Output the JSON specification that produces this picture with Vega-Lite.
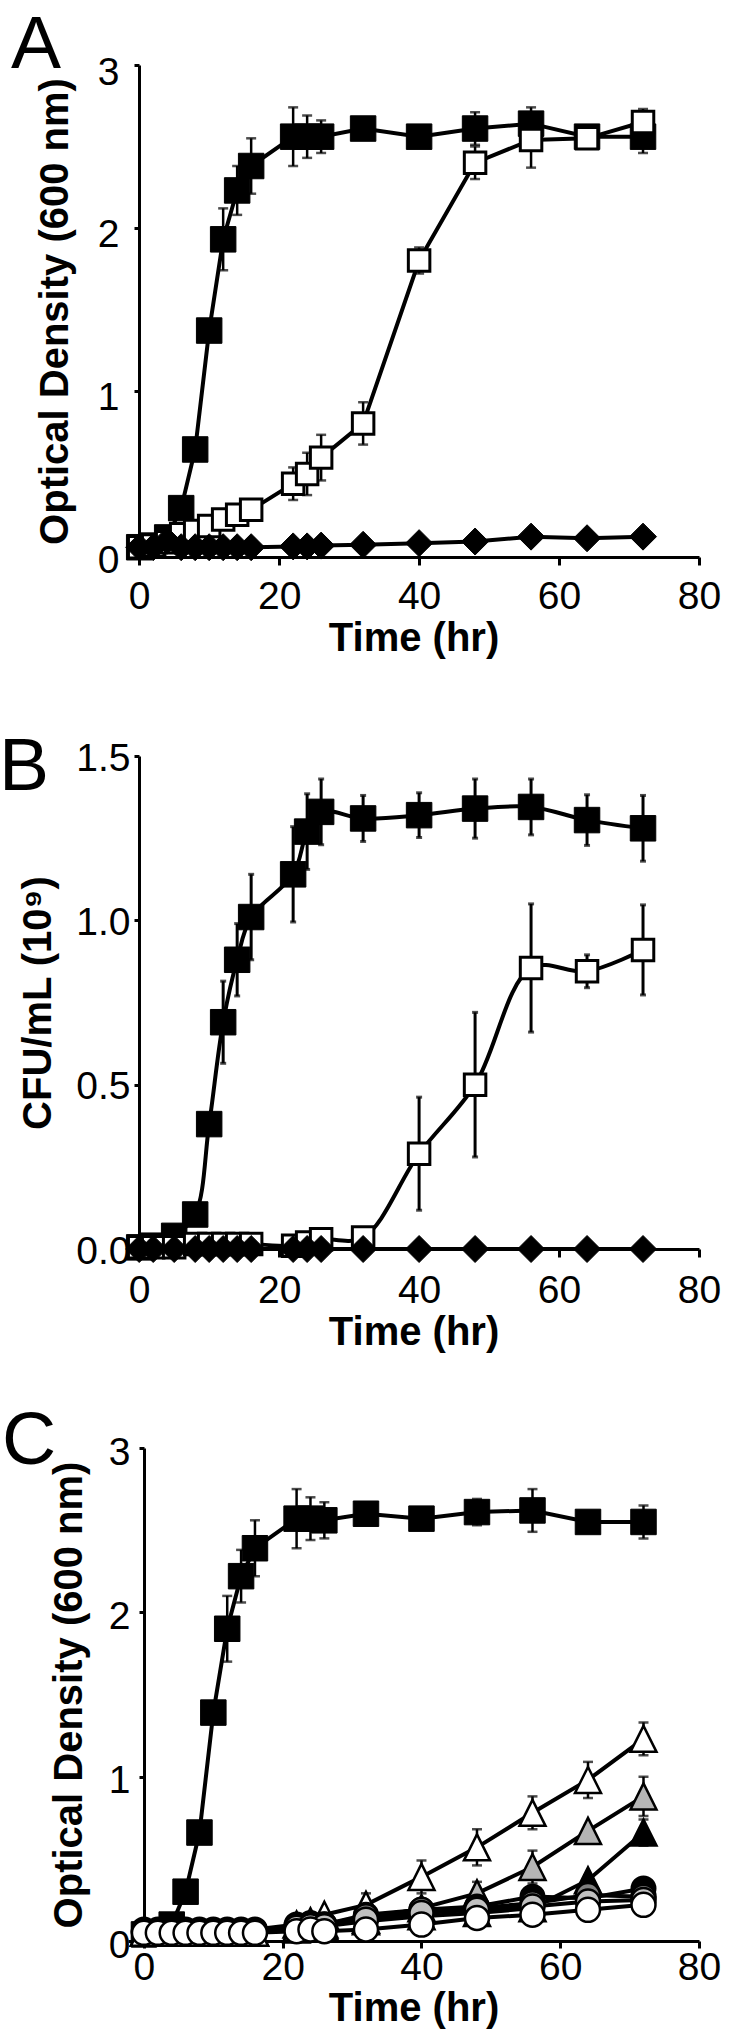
{
"$schema": "https://vega.github.io/schema/vega-lite/v6.json",
"autosize": {"type": "none"},
"padding": {"left": 128, "top": 65, "right": 605, "bottom": 1966},
"background": "white",
"config": {
  "view": {"stroke": null},
  "font": "Liberation Sans",
  "axis": {"domainColor": "black", "domainWidth": 3, "tickColor": "black", "tickWidth": 3, "labelColor": "black", "labelFont": "Liberation Sans", "labelFontSize": 39, "titleFont": "Liberation Sans", "titleFontSize": 40, "titleFontWeight": "bold", "titleColor": "black", "grid": false, "labelFlush": false, "labelOverlap": false, "labelBound": false}
},
"datasets": {
  "A": [
    {"s":"filled square","t":0,"v":0.04},{"s":"filled square","t":2,"v":0.05},{"s":"filled square","t":4,"v":0.1},{"s":"filled square","t":6,"v":0.28},{"s":"filled square","t":8,"v":0.64,"e":0.03},{"s":"filled square","t":10,"v":1.37,"e":0.06},{"s":"filled square","t":12,"v":1.93,"e":0.19},{"s":"filled square","t":14,"v":2.23,"e":0.15},{"s":"filled square","t":16,"v":2.38,"e":0.17},{"s":"filled square","t":22,"v":2.56,"e":0.18},{"s":"filled square","t":24,"v":2.56,"e":0.13},{"s":"filled square","t":26,"v":2.56,"e":0.1},{"s":"filled square","t":32,"v":2.61,"e":0.04},{"s":"filled square","t":40,"v":2.56,"e":0.03},{"s":"filled square","t":48,"v":2.61,"e":0.1},{"s":"filled square","t":56,"v":2.64,"e":0.1},{"s":"filled square","t":64,"v":2.56,"e":0.03},{"s":"filled square","t":72,"v":2.56,"e":0.1},
    {"s":"open square","t":0,"v":0.04},{"s":"open square","t":2,"v":0.05},{"s":"open square","t":4,"v":0.07},{"s":"open square","t":6,"v":0.12},{"s":"open square","t":8,"v":0.14},{"s":"open square","t":10,"v":0.17},{"s":"open square","t":12,"v":0.21},{"s":"open square","t":14,"v":0.24},{"s":"open square","t":16,"v":0.27},{"s":"open square","t":22,"v":0.43,"e":0.1},{"s":"open square","t":24,"v":0.49,"e":0.13},{"s":"open square","t":26,"v":0.59,"e":0.14},{"s":"open square","t":32,"v":0.8,"e":0.13},{"s":"open square","t":40,"v":1.8,"e":0.08},{"s":"open square","t":48,"v":2.4,"e":0.1},{"s":"open square","t":56,"v":2.54,"e":0.17},{"s":"open square","t":64,"v":2.55,"e":0.03},{"s":"open square","t":72,"v":2.65,"e":0.08},
    {"s":"filled diamond","t":0,"v":0.04},{"s":"filled diamond","t":2,"v":0.04},{"s":"filled diamond","t":4,"v":0.08},{"s":"filled diamond","t":6,"v":0.04},{"s":"filled diamond","t":8,"v":0.04},{"s":"filled diamond","t":10,"v":0.04},{"s":"filled diamond","t":12,"v":0.04},{"s":"filled diamond","t":14,"v":0.04},{"s":"filled diamond","t":16,"v":0.04},{"s":"filled diamond","t":22,"v":0.045},{"s":"filled diamond","t":24,"v":0.045},{"s":"filled diamond","t":26,"v":0.05},{"s":"filled diamond","t":32,"v":0.055},{"s":"filled diamond","t":40,"v":0.065},{"s":"filled diamond","t":48,"v":0.075},{"s":"filled diamond","t":56,"v":0.105},{"s":"filled diamond","t":64,"v":0.095},{"s":"filled diamond","t":72,"v":0.105}
  ],
  "B": [
    {"s":"filled square","t":0,"v":0.005},{"s":"filled square","t":2,"v":0.01},{"s":"filled square","t":5,"v":0.04},{"s":"filled square","t":8,"v":0.105},{"s":"filled square","t":10,"v":0.38},{"s":"filled square","t":12,"v":0.69,"e":0.125},{"s":"filled square","t":14,"v":0.88,"e":0.11},{"s":"filled square","t":16,"v":1.01,"e":0.13},{"s":"filled square","t":22,"v":1.14,"e":0.145},{"s":"filled square","t":24,"v":1.27,"e":0.115},{"s":"filled square","t":26,"v":1.33,"e":0.1},{"s":"filled square","t":32,"v":1.31,"e":0.07},{"s":"filled square","t":40,"v":1.32,"e":0.068},{"s":"filled square","t":48,"v":1.34,"e":0.09},{"s":"filled square","t":56,"v":1.345,"e":0.085},{"s":"filled square","t":64,"v":1.305,"e":0.077},{"s":"filled square","t":72,"v":1.28,"e":0.1},
    {"s":"open square","t":0,"v":0.005},{"s":"open square","t":2,"v":0.005},{"s":"open square","t":5,"v":0.005},{"s":"open square","t":8,"v":0.015},{"s":"open square","t":10,"v":0.015},{"s":"open square","t":12,"v":0.015},{"s":"open square","t":14,"v":0.015},{"s":"open square","t":16,"v":0.015},{"s":"open square","t":22,"v":0.01},{"s":"open square","t":24,"v":0.02},{"s":"open square","t":26,"v":0.03},{"s":"open square","t":32,"v":0.035},{"s":"open square","t":40,"v":0.29,"e":0.172},{"s":"open square","t":48,"v":0.5,"e":0.22},{"s":"open square","t":56,"v":0.855,"e":0.195},{"s":"open square","t":64,"v":0.845,"e":0.05},{"s":"open square","t":72,"v":0.91,"e":0.137},
    {"s":"filled diamond","t":0,"v":0},{"s":"filled diamond","t":2,"v":0},{"s":"filled diamond","t":5,"v":0},{"s":"filled diamond","t":8,"v":0},{"s":"filled diamond","t":10,"v":0},{"s":"filled diamond","t":12,"v":0},{"s":"filled diamond","t":14,"v":0},{"s":"filled diamond","t":16,"v":0},{"s":"filled diamond","t":22,"v":0},{"s":"filled diamond","t":24,"v":0},{"s":"filled diamond","t":26,"v":0},{"s":"filled diamond","t":32,"v":0},{"s":"filled diamond","t":40,"v":0},{"s":"filled diamond","t":48,"v":0},{"s":"filled diamond","t":56,"v":0},{"s":"filled diamond","t":64,"v":0},{"s":"filled diamond","t":72,"v":0}
  ],
  "C": [
    {"s":"filled square","t":0,"v":0.04},{"s":"filled square","t":2,"v":0.05},{"s":"filled square","t":4,"v":0.1},{"s":"filled square","t":6,"v":0.3},{"s":"filled square","t":8,"v":0.66},{"s":"filled square","t":10,"v":1.39,"e":0.06},{"s":"filled square","t":12,"v":1.9,"e":0.2},{"s":"filled square","t":14,"v":2.22,"e":0.16},{"s":"filled square","t":16,"v":2.39,"e":0.17},{"s":"filled square","t":22,"v":2.57,"e":0.18},{"s":"filled square","t":24,"v":2.57,"e":0.13},{"s":"filled square","t":26,"v":2.56,"e":0.11},{"s":"filled square","t":32,"v":2.6,"e":0.04},{"s":"filled square","t":40,"v":2.57,"e":0.03},{"s":"filled square","t":48,"v":2.61,"e":0.08},{"s":"filled square","t":56,"v":2.62,"e":0.13},{"s":"filled square","t":64,"v":2.55,"e":0.02},{"s":"filled square","t":72,"v":2.55,"e":0.1},
    {"s":"filled triangle","t":0,"v":0.05},{"s":"filled triangle","t":2,"v":0.05},{"s":"filled triangle","t":4,"v":0.05},{"s":"filled triangle","t":6,"v":0.05},{"s":"filled triangle","t":8,"v":0.05},{"s":"filled triangle","t":10,"v":0.05},{"s":"filled triangle","t":12,"v":0.05},{"s":"filled triangle","t":14,"v":0.05},{"s":"filled triangle","t":16,"v":0.05},{"s":"filled triangle","t":22,"v":0.07},{"s":"filled triangle","t":24,"v":0.08},{"s":"filled triangle","t":26,"v":0.09},{"s":"filled triangle","t":32,"v":0.12},{"s":"filled triangle","t":40,"v":0.15},{"s":"filled triangle","t":48,"v":0.17},{"s":"filled triangle","t":56,"v":0.2},{"s":"filled triangle","t":64,"v":0.37,"e":0.03},{"s":"filled triangle","t":72,"v":0.66,"e":0.08},
    {"s":"gray triangle","t":0,"v":0.05},{"s":"gray triangle","t":2,"v":0.05},{"s":"gray triangle","t":4,"v":0.05},{"s":"gray triangle","t":6,"v":0.05},{"s":"gray triangle","t":8,"v":0.05},{"s":"gray triangle","t":10,"v":0.05},{"s":"gray triangle","t":12,"v":0.05},{"s":"gray triangle","t":14,"v":0.05},{"s":"gray triangle","t":16,"v":0.05},{"s":"gray triangle","t":22,"v":0.08},{"s":"gray triangle","t":24,"v":0.09},{"s":"gray triangle","t":26,"v":0.1},{"s":"gray triangle","t":32,"v":0.13},{"s":"gray triangle","t":40,"v":0.2},{"s":"gray triangle","t":48,"v":0.29,"e":0.07},{"s":"gray triangle","t":56,"v":0.45,"e":0.1},{"s":"gray triangle","t":64,"v":0.67,"e":0.03},{"s":"gray triangle","t":72,"v":0.88,"e":0.12},
    {"s":"open triangle","t":0,"v":0.05},{"s":"open triangle","t":2,"v":0.05},{"s":"open triangle","t":4,"v":0.05},{"s":"open triangle","t":6,"v":0.05},{"s":"open triangle","t":8,"v":0.05},{"s":"open triangle","t":10,"v":0.05},{"s":"open triangle","t":12,"v":0.05},{"s":"open triangle","t":14,"v":0.05},{"s":"open triangle","t":16,"v":0.05},{"s":"open triangle","t":22,"v":0.1},{"s":"open triangle","t":24,"v":0.12},{"s":"open triangle","t":26,"v":0.16},{"s":"open triangle","t":32,"v":0.22,"e":0.07},{"s":"open triangle","t":40,"v":0.39,"e":0.1},{"s":"open triangle","t":48,"v":0.57,"e":0.11},{"s":"open triangle","t":56,"v":0.78,"e":0.1},{"s":"open triangle","t":64,"v":0.98,"e":0.11},{"s":"open triangle","t":72,"v":1.23,"e":0.1},
    {"s":"filled circle","t":0,"v":0.07},{"s":"filled circle","t":2,"v":0.07},{"s":"filled circle","t":4,"v":0.07},{"s":"filled circle","t":6,"v":0.07},{"s":"filled circle","t":8,"v":0.07},{"s":"filled circle","t":10,"v":0.07},{"s":"filled circle","t":12,"v":0.07},{"s":"filled circle","t":14,"v":0.07},{"s":"filled circle","t":16,"v":0.07},{"s":"filled circle","t":22,"v":0.1},{"s":"filled circle","t":24,"v":0.11},{"s":"filled circle","t":26,"v":0.1},{"s":"filled circle","t":32,"v":0.16},{"s":"filled circle","t":40,"v":0.19},{"s":"filled circle","t":48,"v":0.21},{"s":"filled circle","t":56,"v":0.27},{"s":"filled circle","t":64,"v":0.26},{"s":"filled circle","t":72,"v":0.32},
    {"s":"dark gray circle","t":0,"v":0.06},{"s":"dark gray circle","t":2,"v":0.06},{"s":"dark gray circle","t":4,"v":0.06},{"s":"dark gray circle","t":6,"v":0.06},{"s":"dark gray circle","t":8,"v":0.06},{"s":"dark gray circle","t":10,"v":0.06},{"s":"dark gray circle","t":12,"v":0.06},{"s":"dark gray circle","t":14,"v":0.06},{"s":"dark gray circle","t":16,"v":0.06},{"s":"dark gray circle","t":22,"v":0.09},{"s":"dark gray circle","t":24,"v":0.1},{"s":"dark gray circle","t":26,"v":0.1},{"s":"dark gray circle","t":32,"v":0.15},{"s":"dark gray circle","t":40,"v":0.19},{"s":"dark gray circle","t":48,"v":0.2},{"s":"dark gray circle","t":56,"v":0.23},{"s":"dark gray circle","t":64,"v":0.28},{"s":"dark gray circle","t":72,"v":0.27},
    {"s":"light gray circle","t":0,"v":0.06},{"s":"light gray circle","t":2,"v":0.06},{"s":"light gray circle","t":4,"v":0.06},{"s":"light gray circle","t":6,"v":0.06},{"s":"light gray circle","t":8,"v":0.06},{"s":"light gray circle","t":10,"v":0.06},{"s":"light gray circle","t":12,"v":0.06},{"s":"light gray circle","t":14,"v":0.06},{"s":"light gray circle","t":16,"v":0.06},{"s":"light gray circle","t":22,"v":0.08},{"s":"light gray circle","t":24,"v":0.09},{"s":"light gray circle","t":26,"v":0.09},{"s":"light gray circle","t":32,"v":0.13},{"s":"light gray circle","t":40,"v":0.17},{"s":"light gray circle","t":48,"v":0.19},{"s":"light gray circle","t":56,"v":0.21},{"s":"light gray circle","t":64,"v":0.24},{"s":"light gray circle","t":72,"v":0.25},
    {"s":"open circle","t":0,"v":0.05},{"s":"open circle","t":2,"v":0.05},{"s":"open circle","t":4,"v":0.05},{"s":"open circle","t":6,"v":0.05},{"s":"open circle","t":8,"v":0.05},{"s":"open circle","t":10,"v":0.05},{"s":"open circle","t":12,"v":0.05},{"s":"open circle","t":14,"v":0.05},{"s":"open circle","t":16,"v":0.05},{"s":"open circle","t":22,"v":0.06},{"s":"open circle","t":24,"v":0.07},{"s":"open circle","t":26,"v":0.06},{"s":"open circle","t":32,"v":0.07},{"s":"open circle","t":40,"v":0.1},{"s":"open circle","t":48,"v":0.14},{"s":"open circle","t":56,"v":0.16},{"s":"open circle","t":64,"v":0.19},{"s":"open circle","t":72,"v":0.22}
  ]
},
"spacing": 199,
"bounds": "flush",
"resolve": {"scale": {"x": "independent", "y": "independent"}},
"vconcat": [
  {
    "width": 571, "height": 492,
    "data": {"name": "A"},
    "title": {"text": "A", "anchor": "start", "frame": "group", "orient": "top", "fontSize": 75, "fontWeight": "normal", "font": "Liberation Sans", "color": "black", "baseline": "alphabetic", "offset": 0, "dx": -117, "dy": 90},
    "encoding": {
      "x": {"field": "t", "type": "quantitative", "title": "Time (hr)", "scale": {"domain": [-1.6, 80], "nice": false, "zero": false}, "axis": {"values": [0, 20, 40, 60, 80], "tickSize": 8, "labelPadding": 12, "titlePadding": 2}},
      "y": {"field": "v", "type": "quantitative", "title": "Optical Density (600 nm)", "scale": {"domain": [-0.02, 3], "nice": false, "zero": false}, "axis": {"values": [0, 1, 2, 3], "offset": -11, "tickSize": 5, "labelPadding": 15, "labelOffset": 7, "titlePadding": 22}}
    },
    "layer": [
      {"mark": {"type": "line", "color": "black", "strokeWidth": 4}, "encoding": {"detail": {"field": "s", "type": "nominal"}}},
      {"transform": [{"filter": "isValid(datum.e)"}], "mark": {"type": "errorbar", "color": "black", "thickness": 2.5, "size": 10, "ticks": true}, "encoding": {"yError": {"field": "e"}}},
      {"transform": [{"filter": "datum.s == 'filled square'"}], "mark": {"type": "point", "shape": "square", "size": 650, "filled": true, "fill": "black", "stroke": "black", "strokeWidth": 1, "opacity": 1}},
      {"transform": [{"filter": "datum.s == 'open square'"}], "mark": {"type": "point", "shape": "square", "size": 462, "filled": true, "fill": "white", "stroke": "black", "strokeWidth": 3, "opacity": 1}},
      {"transform": [{"filter": "datum.s == 'filled diamond'"}], "mark": {"type": "point", "shape": "diamond", "size": 729, "filled": true, "fill": "black", "stroke": "black", "strokeWidth": 1, "opacity": 1}}
    ]
  },
  {
    "width": 571, "height": 493,
    "data": {"name": "B"},
    "title": {"text": "B", "anchor": "start", "frame": "group", "orient": "top", "fontSize": 75, "fontWeight": "normal", "font": "Liberation Sans", "color": "black", "baseline": "alphabetic", "offset": 0, "dx": -129, "dy": 126},
    "encoding": {
      "x": {"field": "t", "type": "quantitative", "title": "Time (hr)", "scale": {"domain": [-1.6, 80], "nice": false, "zero": false}, "axis": {"values": [0, 20, 40, 60, 80], "tickSize": 8, "labelPadding": 14, "titlePadding": 2}},
      "y": {"field": "v", "type": "quantitative", "title": "CFU/mL (10⁹)", "scale": {"domain": [0, 1.5], "nice": false, "zero": false}, "axis": {"values": [0, 0.5, 1, 1.5], "format": ".1f", "offset": -11, "tickSize": 5, "labelPadding": 4, "labelOffset": 2, "titlePadding": 17}}
    },
    "layer": [
      {"mark": {"type": "line", "color": "black", "strokeWidth": 4, "interpolate": "catmull-rom"}, "encoding": {"detail": {"field": "s", "type": "nominal"}}},
      {"transform": [{"filter": "isValid(datum.e)"}], "mark": {"type": "errorbar", "color": "black", "thickness": 3, "size": 6, "ticks": true}, "encoding": {"yError": {"field": "e"}}},
      {"transform": [{"filter": "datum.s == 'filled square'"}], "mark": {"type": "point", "shape": "square", "size": 650, "filled": true, "fill": "black", "stroke": "black", "strokeWidth": 1, "opacity": 1}},
      {"transform": [{"filter": "datum.s == 'open square'"}], "mark": {"type": "point", "shape": "square", "size": 462, "filled": true, "fill": "white", "stroke": "black", "strokeWidth": 3, "opacity": 1}},
      {"transform": [{"filter": "datum.s == 'filled diamond'"}], "mark": {"type": "point", "shape": "diamond", "size": 729, "filled": true, "fill": "black", "stroke": "black", "strokeWidth": 1, "opacity": 1}}
    ]
  },
  {
    "width": 571, "height": 493,
    "data": {"name": "C"},
    "title": {"text": "C", "anchor": "start", "frame": "group", "orient": "top", "fontSize": 75, "fontWeight": "normal", "font": "Liberation Sans", "color": "black", "baseline": "alphabetic", "offset": 0, "dx": -126, "dy": 106},
    "encoding": {
      "x": {"field": "t", "type": "quantitative", "title": "Time (hr)", "scale": {"domain": [-2.3, 80], "nice": false, "zero": false}, "axis": {"values": [0, 20, 40, 60, 80], "tickSize": 7, "labelPadding": 0, "titlePadding": 1}},
      "y": {"field": "v", "type": "quantitative", "title": "Optical Density (600 nm)", "scale": {"domain": [0, 3], "nice": false, "zero": false}, "axis": {"values": [0, 1, 2, 3], "offset": -16, "tickSize": 5, "labelPadding": 9, "labelOffset": 4, "titlePadding": 19}}
    },
    "layer": [
      {"mark": {"type": "line", "color": "black", "strokeWidth": 4}, "encoding": {"detail": {"field": "s", "type": "nominal"}}},
      {"transform": [{"filter": "isValid(datum.e)"}], "mark": {"type": "errorbar", "color": "black", "thickness": 2.5, "size": 10, "ticks": true}, "encoding": {"yError": {"field": "e"}}},
      {"transform": [{"filter": "datum.s == 'filled square'"}], "mark": {"type": "point", "shape": "square", "size": 650, "filled": true, "fill": "black", "stroke": "black", "strokeWidth": 1, "opacity": 1}},
      {"transform": [{"filter": "datum.s == 'filled triangle'"}], "mark": {"type": "point", "shape": "M0,-1L1,1L-1,1Z", "size": 676, "filled": true, "fill": "black", "stroke": "black", "strokeWidth": 2.5, "opacity": 1}},
      {"transform": [{"filter": "datum.s == 'gray triangle'"}], "mark": {"type": "point", "shape": "M0,-1L1,1L-1,1Z", "size": 676, "filled": true, "fill": "#b5b5b5", "stroke": "black", "strokeWidth": 2.5, "opacity": 1}},
      {"transform": [{"filter": "datum.s == 'open triangle'"}], "mark": {"type": "point", "shape": "M0,-1L1,1L-1,1Z", "size": 676, "filled": true, "fill": "white", "stroke": "black", "strokeWidth": 2.5, "opacity": 1}},
      {"transform": [{"filter": "datum.s == 'filled circle'"}], "mark": {"type": "point", "shape": "circle", "size": 576, "filled": true, "fill": "black", "stroke": "black", "strokeWidth": 2, "opacity": 1}},
      {"transform": [{"filter": "datum.s == 'dark gray circle'"}], "mark": {"type": "point", "shape": "circle", "size": 576, "filled": true, "fill": "#7f7f7f", "stroke": "black", "strokeWidth": 2.5, "opacity": 1}},
      {"transform": [{"filter": "datum.s == 'light gray circle'"}], "mark": {"type": "point", "shape": "circle", "size": 576, "filled": true, "fill": "#c0c0c0", "stroke": "black", "strokeWidth": 2.5, "opacity": 1}},
      {"transform": [{"filter": "datum.s == 'open circle'"}], "mark": {"type": "point", "shape": "circle", "size": 576, "filled": true, "fill": "white", "stroke": "black", "strokeWidth": 2.5, "opacity": 1}}
    ]
  }
]
}
